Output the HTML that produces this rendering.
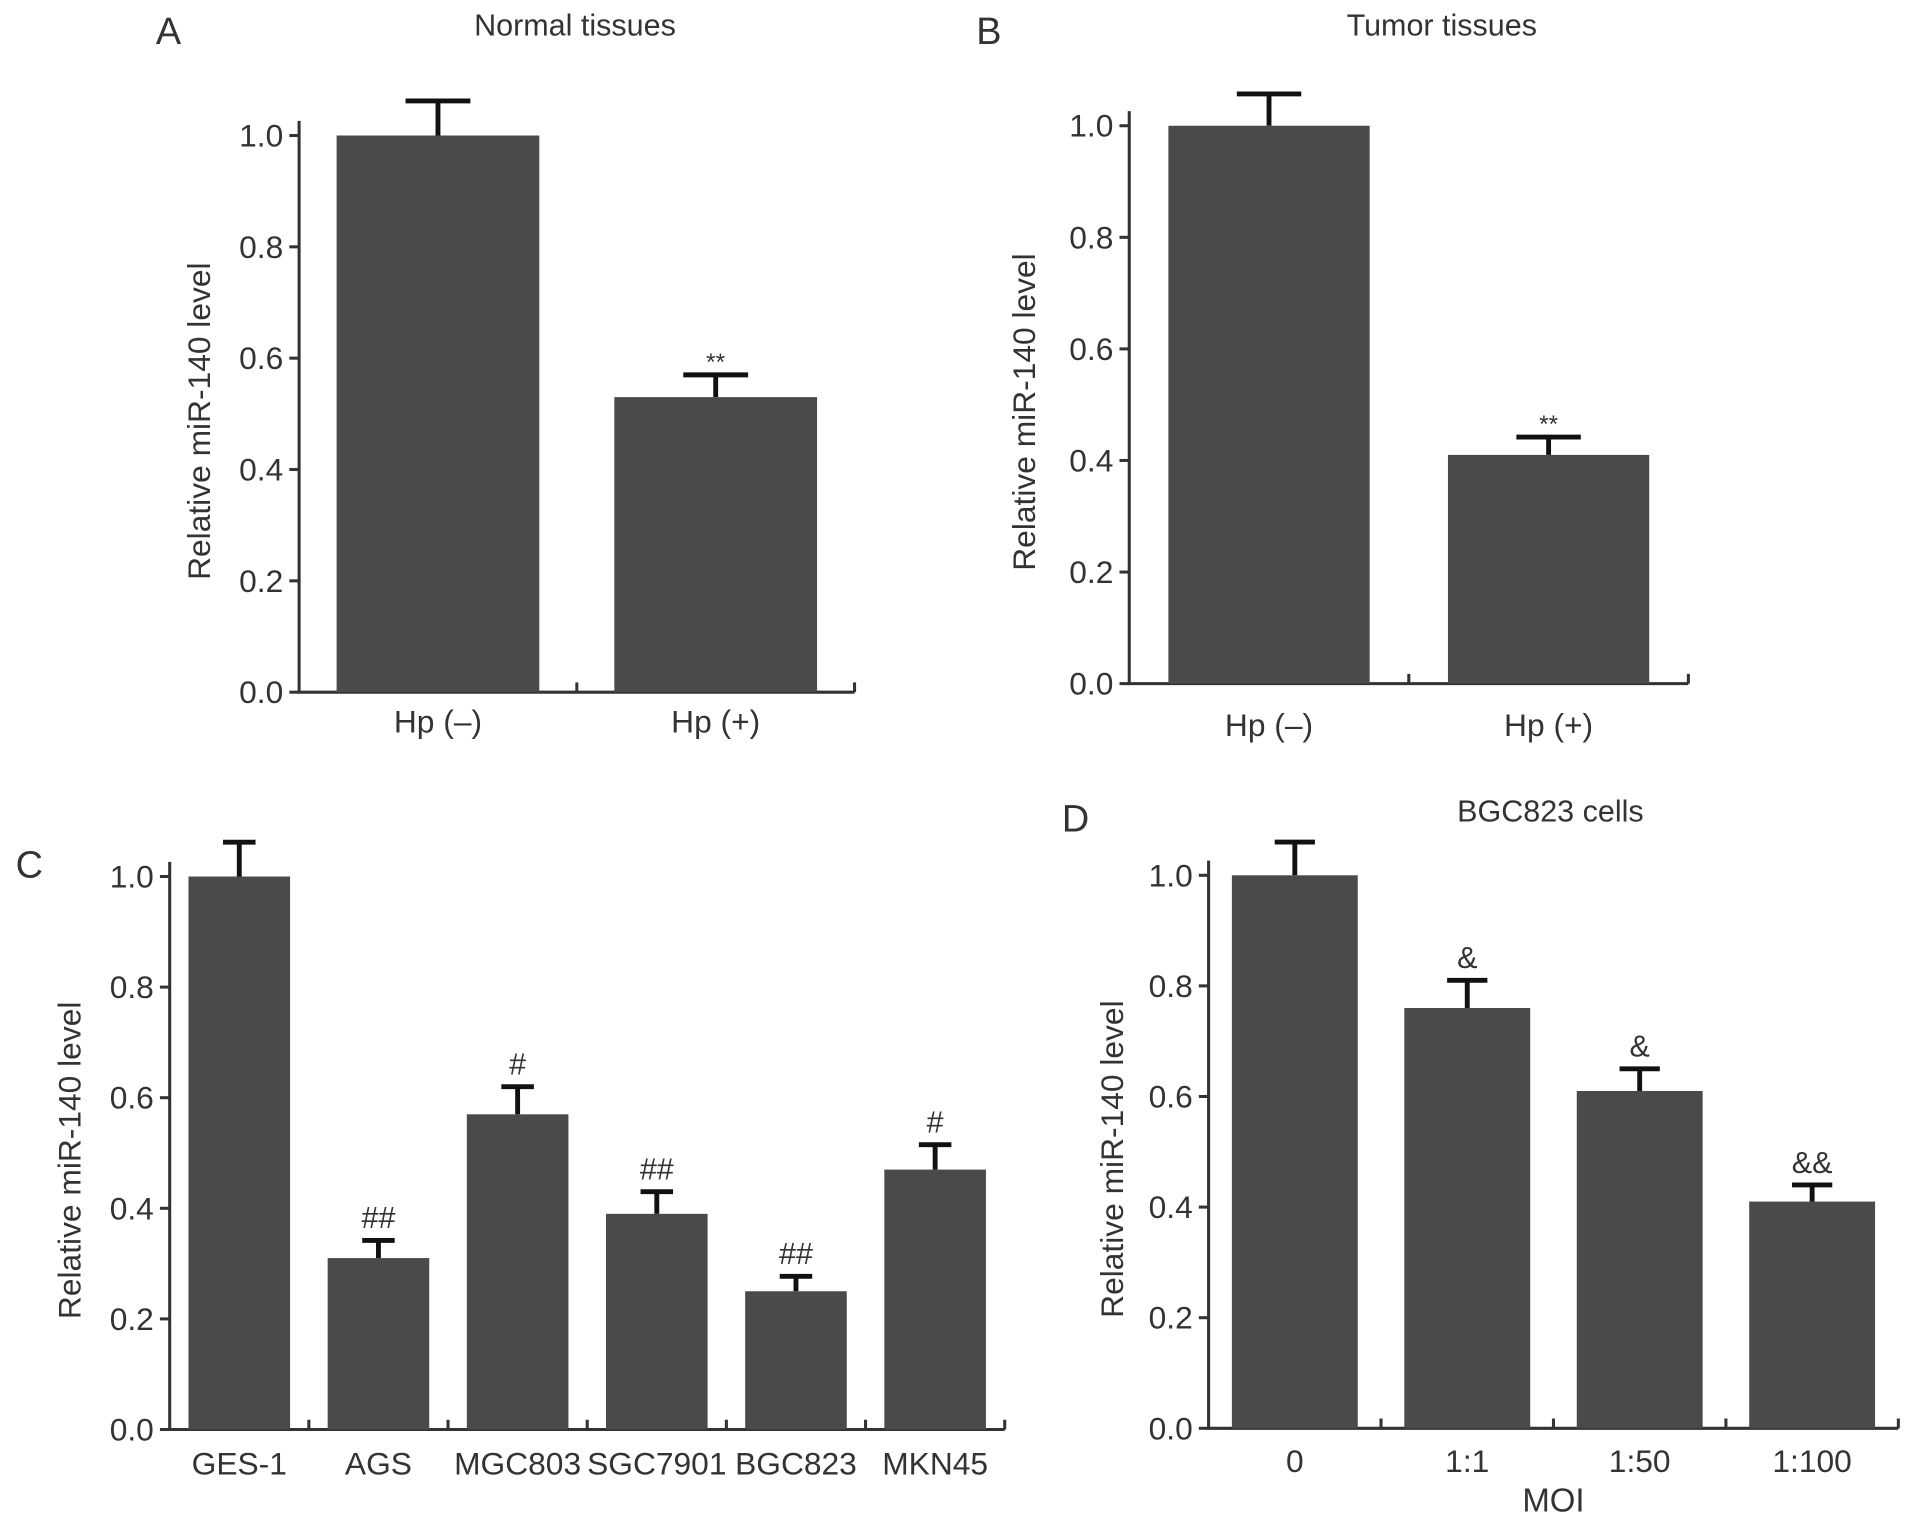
<!DOCTYPE html>
<html><head><meta charset="utf-8"><style>html,body{margin:0;padding:0;background:#fff}svg{display:block}text{font-family:"Liberation Sans",sans-serif;fill:#333}</style></head>
<body>
<svg id="fig" width="1913" height="1524" viewBox="0 0 1567 1248.4" preserveAspectRatio="none" xmlns="http://www.w3.org/2000/svg"></svg>
<script>
const yTicks=[0,0.2,0.4,0.6,0.8,1.0];
const catsA=["Hp (–)","Hp (+)"];
const valsA=[1.0,0.53];
const errA=[0.062,0.04];
const markA=["","**"];
const catsB=["Hp (–)","Hp (+)"];
const valsB=[1.0,0.41];
const errB=[0.057,0.032];
const markB=["","**"];
const catsC=["GES-1","AGS","MGC803","SGC7901","BGC823","MKN45"];
const valsC=[1.0,0.31,0.57,0.39,0.25,0.47];
const errC=[0.062,0.032,0.05,0.04,0.027,0.045];
const markC=["","##","#","##","##","#"];
const catsD=["0","1:1","1:50","1:100"];
const valsD=[1.0,0.76,0.61,0.41];
const errD=[0.06,0.05,0.04,0.03];
const markD=["","&","&","&&"];
const svg=document.getElementById('fig');
const NS="http://www.w3.org/2000/svg";
function mk(tag,attrs,parent,txt){const e=document.createElementNS(NS,tag);for(const k in attrs)e.setAttribute(k,attrs[k]);if(txt!==undefined)e.textContent=txt;parent.appendChild(e);return e;}
function chart(id,cfg,cats,vals,errs,marks){
  const g=mk('g',{},svg);
  
  
  const y=v=>cfg.y0-(cfg.y0-cfg.y1)*v;
  const n=cats.length, pitch=(cfg.xEnd-cfg.x0)/n;
  const x=i=>cfg.x0+pitch*i+pitch/2;
  const bw=pitch*cfg.bwf;
  const ax=mk('path',{d:`M${cfg.x0} ${y(1.0)-12}V${cfg.y0}H${cfg.xEnd}`,stroke:'#333','stroke-width':2.5,fill:'none'},g);
  
  
  yTicks.forEach(t=>{
    mk('line',{x1:cfg.x0-8,x2:cfg.x0,y1:y(t),y2:y(t),stroke:'#333','stroke-width':2.5},g);
    const tl=mk('text',{x:cfg.x0-13,y:y(t)+9,'text-anchor':'end','font-size':26},g,t.toFixed(1));
    
    
  });
  for(let i=1;i<=n;i++){mk('line',{x1:cfg.x0+pitch*i,x2:cfg.x0+pitch*i,y1:cfg.y0,y2:cfg.y0-8,stroke:'#333','stroke-width':2.5},g);}
  cats.forEach((c,i)=>{
    const top=y(vals[i]), et=y(vals[i]+errs[i]);
    const st=mk('line',{x1:x(i),x2:x(i),y1:top,y2:et,stroke:'#111','stroke-width':4},g);
    
    
    const cap=mk('line',{x1:x(i)-bw*0.16,x2:x(i)+bw*0.16,y1:et,y2:et,stroke:'#111','stroke-width':4},g);
    
    
    const b=mk('rect',{x:x(i)-bw/2,y:top,width:bw,height:cfg.y0-top,fill:'#4a4a4a'},g);
    
    
    if(marks[i]){const m=mk('text',{x:x(i),y:et-(marks[i]=='**'?4:10),'text-anchor':'middle','font-size':marks[i]=='**'?20:25},g,marks[i]);
      
      }
    const l=mk('text',{x:x(i),y:cfg.y0+cfg.labDy,'text-anchor':'middle','font-size':26},g,c);
    
    
  });
  const yt=mk('text',{x:0,y:0,'text-anchor':'middle','font-size':26,transform:`translate(${cfg.ytx},${(cfg.y0+y(1))/2+6}) rotate(-90)`},g,'Relative miR-140 level');
  
  
  const pl=mk('text',{x:cfg.lx,y:cfg.ly,'text-anchor':'middle','font-size':31},g,cfg.letter);
  
  
  if(cfg.title){const tt=mk('text',{x:cfg.tx,y:cfg.ty,'text-anchor':'middle','font-size':25},g,cfg.title);
    
    }
  if(cfg.xtitle){const xt=mk('text',{x:(cfg.x0+cfg.xEnd)/2,y:cfg.y0+68,'text-anchor':'middle','font-size':27},g,cfg.xtitle);
    
    }
}
chart('panel-a',{x0:245,xEnd:700,y0:567,y1:111,bwf:0.73,labDy:33,ytx:172,letter:'A',lx:138,ly:36,title:'Normal tissues',tx:471,ty:29},catsA,valsA,errA,markA);
chart('panel-b',{x0:925,xEnd:1383,y0:560,y1:103,bwf:0.72,labDy:43,ytx:848,letter:'B',lx:810,ly:36,title:'Tumor tissues',tx:1181,ty:29},catsB,valsB,errB,markB);
chart('panel-c',{x0:139,xEnd:823,y0:1171,y1:718,bwf:0.73,labDy:37,ytx:66,letter:'C',lx:24,ly:719,title:'',tx:0,ty:0},catsC,valsC,errC,markC);
chart('panel-d',{x0:990,xEnd:1555,y0:1170,y1:717,bwf:0.73,labDy:36,ytx:920,letter:'D',lx:881,ly:681,title:'BGC823 cells',tx:1270,ty:673,xtitle:'MOI'},catsD,valsD,errD,markD);
</script>
</body></html>
